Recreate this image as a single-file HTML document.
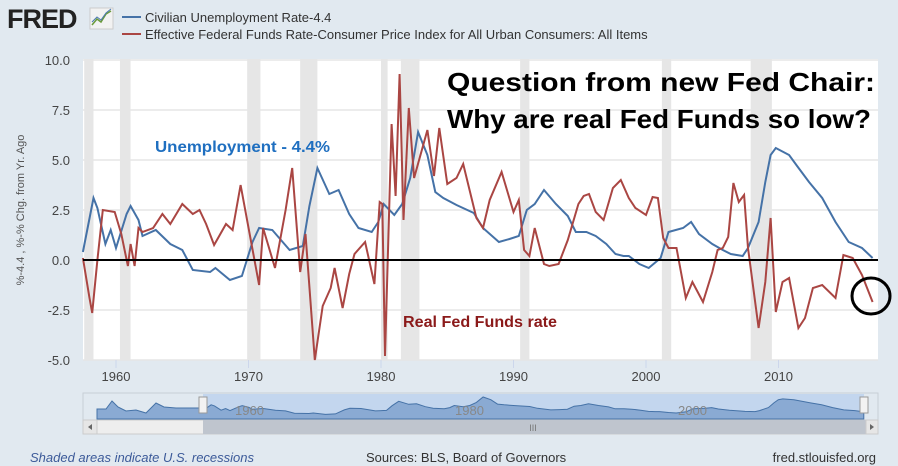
<!DOCTYPE html>
<html><head><meta charset="utf-8"><style>
html,body{margin:0;padding:0;background:#e1e9f0;}
svg{display:block;font-family:"Liberation Sans",sans-serif;}
</style></head><body>
<svg id="chart" width="898" height="466" viewBox="0 0 898 466">
<rect x="0" y="0" width="898" height="466" fill="#e1e9f0"/>
<g>
<text x="7" y="28" font-size="27" font-weight="bold" fill="#222" letter-spacing="-1">FRED</text>
<rect x="90" y="8" width="23" height="21" fill="#f2f2f2" stroke="#ccc"/>
<polyline points="92,25 97,19 101,22 106,14 111,11" fill="none" stroke="#6a9a3a" stroke-width="1.5"/>
<polyline points="92,22 97,17 101,20 106,13 111,9" fill="none" stroke="#4a78b0" stroke-width="1"/>
</g>
<g>
<line x1="122" y1="17" x2="141" y2="17" stroke="#4572a7" stroke-width="2"/>
<text x="145" y="22" font-size="13" fill="#333">Civilian Unemployment Rate-4.4</text>
<line x1="122" y1="34" x2="141" y2="34" stroke="#aa4643" stroke-width="2"/>
<text x="145" y="39" font-size="13" fill="#333">Effective Federal Funds Rate-Consumer Price Index for All Urban Consumers: All Items</text>
</g>
<rect x="83" y="59" width="795" height="301" fill="#fff"/>
<g id="rec"></g>
<g id="grid"></g>
<g id="yticks"></g>
<g id="xticks"></g>
<text transform="translate(24,210) rotate(-90)" text-anchor="middle" font-size="11" fill="#555">%-4.4 , %-% Chg. from Yr. Ago</text>
<path id="unemp" fill="none" stroke="#4572a7" stroke-width="2"/>
<path id="realff" fill="none" stroke="#aa4643" stroke-width="2"/>
<line id="zero" x1="83" x2="878" stroke="#000" stroke-width="2"/>
<text x="447" y="91" font-size="26" font-weight="bold" fill="#000" textLength="428" lengthAdjust="spacingAndGlyphs">Question from new Fed Chair:</text>
<text x="447" y="128" font-size="26" font-weight="bold" fill="#000" textLength="424" lengthAdjust="spacingAndGlyphs">Why are real Fed Funds so low?</text>
<text x="155" y="152" font-size="16" font-weight="bold" fill="#1f6fc0" textLength="175" lengthAdjust="spacingAndGlyphs">Unemployment - 4.4%</text>
<text x="403" y="327" font-size="16" font-weight="bold" fill="#8b1a1a" textLength="154" lengthAdjust="spacingAndGlyphs">Real Fed Funds rate</text>
<ellipse cx="871" cy="296" rx="19" ry="18" fill="none" stroke="#000" stroke-width="3"/>
<g>
<rect x="83" y="393" width="795" height="27" fill="#e1e9f0" stroke="#c8ced6"/>
<rect x="203" y="394" width="661" height="26" fill="#c3d6ee"/>
<path id="navarea" fill="#8aaad3" stroke="#4572a7" stroke-width="1"/>
<text x="235" y="415" font-size="13" fill="#888">1960</text>
<text x="455" y="415" font-size="13" fill="#888">1980</text>
<text x="678" y="415" font-size="13" fill="#888">2000</text>
<rect x="199" y="397" width="8" height="16" fill="#f2f2f2" stroke="#999"/>
<rect x="860" y="397" width="8" height="16" fill="#f2f2f2" stroke="#999"/>
<rect x="83" y="420" width="795" height="14" fill="#eee" stroke="#ccc"/>
<rect x="203" y="420" width="663" height="14" fill="#bfc5ce"/>
<rect x="83" y="420" width="14" height="14" fill="#e6e6e6" stroke="#ccc"/>
<polygon points="92,424 88,427 92,430" fill="#666"/>
<rect x="866" y="420" width="12" height="14" fill="#e6e6e6" stroke="#ccc"/>
<polygon points="870,424 874,427 870,430" fill="#666"/>
<text x="533" y="431" font-size="9" fill="#777" text-anchor="middle">III</text>
</g>
<text x="30" y="462" font-size="13" font-style="italic" fill="#3c5a99">Shaded areas indicate U.S. recessions</text>
<text x="366" y="462" font-size="13" fill="#333">Sources: BLS, Board of Governors</text>
<text x="876" y="462" font-size="13" fill="#333" text-anchor="end">fred.stlouisfed.org</text>
</svg>
<script>
const yTicks=[10.0,7.5,5.0,2.5,0.0,-2.5,-5.0];
const xTicks=[1960,1970,1980,1990,2000,2010];
const recStart=[1957.6,1960.3,1969.9,1973.9,1980.0,1981.5,1990.5,2001.2,2007.9];
const recEnd=[1958.3,1961.1,1970.9,1975.2,1980.5,1982.9,1991.2,2001.9,2009.5];
const unempYears=[1957.5,1958.3,1958.6,1959.2,1959.6,1960,1960.8,1961.1,1961.7,1962,1963,1964.1,1965,1965.8,1967.1,1967.5,1968.6,1969.5,1970.3,1970.8,1971.8,1973.1,1974.1,1974.6,1975.2,1976.1,1976.8,1977.6,1978.3,1979.3,1979.8,1980.2,1981,1981.6,1982.2,1982.8,1983.5,1984.1,1984.7,1985.7,1987,1987.7,1988.9,1989.7,1990.4,1991,1991.6,1992.3,1993.2,1994.1,1994.7,1995.5,1996.2,1997,1997.7,1998.3,1998.7,1999.5,2000.2,2001.1,2001.7,2002.8,2003.4,2004,2005,2005.8,2006.4,2007.3,2007.7,2008.5,2009,2009.4,2009.8,2010.8,2011.4,2012.3,2013.3,2014.3,2015.3,2016.3,2017.1];
const unempVals=[0.4,3.1,2.6,0.8,1.5,0.6,2.3,2.7,2.0,1.2,1.5,0.8,0.5,-0.5,-0.6,-0.4,-1.0,-0.8,0.9,1.6,1.5,0.5,0.7,2.7,4.6,3.3,3.5,2.3,1.6,1.4,1.9,2.8,2.25,2.8,4.1,6.4,5.25,3.4,3.1,2.75,2.35,1.6,0.9,1.05,1.2,2.5,2.8,3.5,2.8,2.2,1.4,1.4,1.2,0.8,0.3,0.2,0.2,-0.2,-0.4,0.1,1.4,1.6,1.9,1.3,0.8,0.5,0.3,0.2,0.6,1.9,3.9,5.25,5.6,5.25,4.7,3.9,3.1,1.9,0.9,0.6,0.1];
const ffYears=[1957.5,1958.0,1958.2,1958.6,1959.0,1959.9,1960.4,1960.9,1961.1,1961.4,1961.7,1962.0,1962.8,1963.5,1964.1,1965.0,1965.8,1966.3,1966.8,1967.4,1968.3,1968.8,1969.4,1970.8,1971.1,1972.0,1972.8,1973.3,1973.9,1974.3,1975.0,1975.6,1976.2,1976.5,1977.1,1977.6,1978.0,1978.8,1979.5,1979.9,1980.1,1980.3,1980.8,1981.1,1981.4,1981.7,1982.1,1982.5,1983.5,1984.0,1984.4,1985.0,1985.7,1986.2,1987.2,1987.7,1988.2,1989.1,1990.0,1990.4,1990.8,1991.2,1991.6,1992.3,1992.7,1993.4,1994.1,1994.9,1995.3,1995.7,1996.2,1996.8,1997.5,1998.1,1998.7,1999.2,2000.0,2000.5,2000.9,2001.3,2001.7,2002.3,2003.0,2003.5,2004.3,2005.0,2005.4,2005.8,2006.2,2006.6,2007.0,2007.4,2007.7,2008.5,2009.0,2009.4,2009.8,2010.3,2010.8,2011.5,2012.0,2012.6,2013.3,2014.3,2014.9,2015.6,2016.3,2017.1];
const ffVals=[0.1,-1.9,-2.65,0.0,2.5,2.4,1.3,-0.3,0.8,-0.3,1.6,1.4,1.6,2.3,1.8,2.8,2.3,2.5,1.8,0.75,1.8,1.5,3.75,-1.25,1.6,-0.4,2.5,4.6,-0.6,1.3,-5.0,-2.3,-1.4,-0.4,-2.4,-0.7,0.3,0.9,-1.2,2.9,2.8,-4.8,6.8,3.2,9.3,2.0,7.6,4.1,6.5,4.2,6.6,3.8,4.1,4.8,2.1,1.6,3.0,4.4,2.4,3.0,0.5,0.2,1.6,-0.2,-0.3,-0.2,1.0,2.8,3.2,3.3,2.4,2.0,3.6,4.0,3.1,2.6,2.25,3.15,3.1,1.1,0.6,0.6,-1.9,-1.1,-2.1,-0.6,0.5,0.6,1.15,3.85,2.9,3.25,0.6,-3.4,-1.1,2.1,-2.6,-1.1,-0.9,-3.4,-2.9,-1.4,-1.25,-1.9,0.25,0.1,-0.75,-2.1];

const X=yr=>116+(yr-1960)*13.25;
const Y=v=>260-v*20;
const NX=yr=>230+(yr-1960)*11.1;
const NY=u=>413-(u-4)*2.35;
const NS='http://www.w3.org/2000/svg';
function mk(tag,attrs,parent){const e=document.createElementNS(NS,tag);for(const k in attrs)e.setAttribute(k,attrs[k]);parent.appendChild(e);return e;}

const rec=document.getElementById('rec');
recStart.forEach((s,i)=>{
  const r=mk('rect',{x:X(s),y:59,width:X(recEnd[i])-X(s),height:301,fill:'#e6e6e6'},rec);
  
  
});
const grid=document.getElementById('grid'),yt=document.getElementById('yticks');
yTicks.forEach(v=>{
  if(v!==0){const l=mk('line',{x1:83,x2:878,y1:Y(v),y2:Y(v),stroke:'#e6e6e6','stroke-width':1.5},grid);
  
  }
  const t=mk('text',{x:70,y:Y(v)+5,'text-anchor':'end','font-size':13,fill:'#444'},yt);
  t.textContent=v.toFixed(1);
  
  
});
const xt=document.getElementById('xticks');
xTicks.forEach(yr=>{
  mk('line',{x1:X(yr),x2:X(yr),y1:360,y2:368,stroke:'#ccd6eb'},xt);
  const t=mk('text',{x:X(yr),y:381,'text-anchor':'middle','font-size':13,fill:'#444'},xt);
  t.textContent=yr;
  
  
});
document.getElementById('zero').setAttribute('y1',Y(0));
document.getElementById('zero').setAttribute('y2',Y(0));
const pathOf=(xs,vs,fx,fy)=>xs.map((x,i)=>(i?'L':'M')+fx(x).toFixed(1)+','+fy(vs[i]).toFixed(1)).join('');
document.getElementById('unemp').setAttribute('d',pathOf(unempYears,unempVals,X,Y));
document.getElementById('realff').setAttribute('d',pathOf(ffYears,ffVals,X,Y));
const navPre='M97,419L97,409L106,409L112,401L118,407L126,411L136,410L146,413L150,409L156,403L164,407L176,408L190,408L202,408';
const navMain=unempYears.map((yr,i)=>'L'+NX(yr).toFixed(1)+','+NY(unempVals[i]+4.4).toFixed(1)).join('');
document.getElementById('navarea').setAttribute('d',navPre+navMain+'L'+NX(2017.1).toFixed(1)+',419Z');
</script>
</body></html>
